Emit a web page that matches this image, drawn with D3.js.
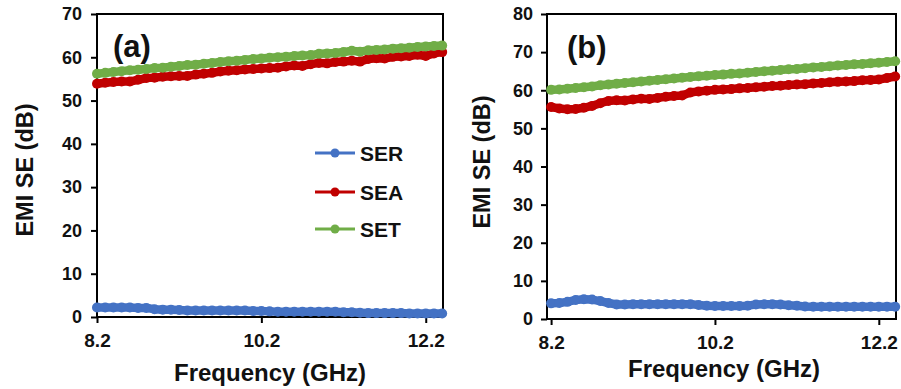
<!DOCTYPE html>
<html lang="en">
<head>
<meta charset="UTF-8">
<title>EMI SE</title>
<script src="https://d3js.org/d3.v7.min.js"></script>
<style>
    body{ margin:0; background:#fff; }
    text{ font-family: "Liberation Sans", Arial, sans-serif; font-weight: bold; fill:#111; }
    .frame{ fill:none; stroke:#000; stroke-width:2; }
</style>
</head>
<body>
<svg id="fig" width="901" height="389"></svg>
<script>
    // frequency points (GHz)
    const freq = [8.2,8.3,8.4,8.5,8.6,8.7,8.8,8.9,9.0,9.1,9.2,9.3,9.4,9.5,9.6,9.7,9.8,9.9,10.0,10.1,10.2,
        10.3,10.4,10.5,10.6,10.7,10.8,10.9,11.0,11.1,11.2,11.3,11.4,11.5,11.6,11.7,11.8,11.9,12.0,12.1,12.2,12.3,12.4];

    // panel (a)
    const serA = [2.2,2.2,2.2,2.2,2.2,2.1,2.1,1.8,1.7,1.7,1.6,1.5,1.5,1.5,1.5,1.5,1.5,1.5,1.5,1.4,1.4,
        1.3,1.2,1.2,1.2,1.2,1.2,1.2,1.2,1.2,1.1,1.1,1.0,0.9,0.9,0.9,0.9,0.9,0.8,0.8,0.8,0.8,0.8];
    const seaA = [53.9,54.1,54.3,54.4,54.4,54.8,55.2,55.3,55.5,55.6,55.7,55.7,56.0,56.2,56.4,56.7,56.9,57.0,57.2,57.3,57.4,
        57.5,57.6,57.9,58.1,58.0,58.4,58.7,58.6,58.9,59.0,59.2,59.0,59.6,59.8,59.7,60.1,60.2,60.3,60.6,60.3,60.9,61.2];
    const setA = [56.2,56.4,56.6,56.8,57.0,57.1,57.3,57.5,57.6,57.8,58.0,58.2,58.3,58.5,58.7,58.9,59.1,59.2,59.4,59.6,59.7,
        59.9,60.0,60.1,60.3,60.4,60.5,60.8,60.9,61.0,61.2,61.5,61.3,61.6,61.7,61.8,62.0,62.1,62.2,62.4,62.5,62.6,62.7];

    // panel (b)
    const serB = [4.1,4.2,4.5,5.0,5.2,5.1,4.7,4.2,3.8,3.8,3.9,3.9,3.9,3.9,3.9,3.9,3.9,3.9,3.7,3.5,3.4,
        3.4,3.4,3.4,3.5,3.8,3.9,3.9,3.8,3.6,3.5,3.3,3.2,3.2,3.2,3.2,3.2,3.2,3.2,3.2,3.2,3.2,3.2];
    const seaB = [55.6,55.2,55.0,55.1,55.4,55.9,56.6,57.2,57.4,57.3,57.6,57.8,57.7,58.0,58.3,58.5,58.6,59.4,59.7,59.9,60.1,
        60.2,60.3,60.5,60.6,60.8,60.9,61.1,61.2,61.4,61.5,61.6,61.8,61.9,62.1,62.2,62.3,62.4,62.6,62.7,62.8,63.2,63.6];
    const setB = [60.1,60.2,60.4,60.6,60.8,61.0,61.3,61.5,61.7,61.9,62.1,62.3,62.5,62.7,62.9,63.1,63.3,63.5,63.7,63.8,64.0,
        64.1,64.3,64.4,64.6,64.8,65.0,65.1,65.3,65.5,65.6,65.8,66.0,66.1,66.3,66.5,66.6,66.8,66.9,67.1,67.2,67.4,67.6];

    const seriesNames = ["SER", "SEA", "SET"];
    const colors = {SER: "#4472C4", SEA: "#C00000", SET: "#70AD47"};
    const xTicks = [8.2, 10.2, 12.2];

    const svg = d3.select("#fig");

    function drawPanel(p) {
        const g = svg.append("g");
        const x = d3.scaleLinear().domain(p.xDomain).range([p.left, p.right]);
        const y = d3.scaleLinear().domain([0, p.yMax]).range([p.bottom, p.top]);

        // y axis
        g.append("g")
            .attr("transform", "translate(" + p.left + ",0)")
            .call(d3.axisLeft(y).ticks(p.yMax / 10).tickSize(6).tickPadding(p.yPad))
            .call(a => a.select(".domain").remove())
            .call(a => a.selectAll("line").attr("stroke", "#000").attr("stroke-width", 2))
            .call(a => a.selectAll("text").attr("font-size", 18).attr("font-family", null).attr("fill", "#111"));

        // x axis
        g.append("g")
            .attr("transform", "translate(0," + p.bottom + ")")
            .call(d3.axisBottom(x).tickValues(xTicks).tickFormat(d3.format(".1f")).tickSize(6).tickPadding(p.xPad))
            .call(a => a.select(".domain").remove())
            .call(a => a.selectAll("line").attr("stroke", "#000").attr("stroke-width", 2))
            .call(a => a.selectAll("text").attr("font-size", 19).attr("font-family", null).attr("fill", "#111"));

        g.append("rect").attr("class", "frame")
            .attr("x", p.left).attr("y", p.top)
            .attr("width", p.right - p.left).attr("height", p.bottom - p.top);

        const line = d3.line().x((d, i) => x(freq[i])).y(d => y(d));
        seriesNames.forEach(name => {
            const vals = p.data[name];
            g.append("path").datum(vals)
                .attr("d", line)
                .attr("fill", "none")
                .attr("stroke", colors[name])
                .attr("stroke-width", 8.5)
                .attr("stroke-linejoin", "round");
            g.append("g").selectAll("circle").data(vals).enter()
                .append("circle")
                .attr("cx", (d, i) => x(freq[i]))
                .attr("cy", d => y(d))
                .attr("r", 5)
                .attr("fill", colors[name]);
        });

        g.append("text")
            .attr("x", p.labelX).attr("y", p.labelY)
            .attr("font-size", 31)
            .text(p.label);

        g.append("text")
            .attr("transform", "translate(" + p.yTitleX + "," + p.yTitleY + ") rotate(-90)")
            .attr("text-anchor", "middle")
            .attr("dy", "0.35em")
            .attr("font-size", 23.5)
            .text("EMI SE (dB)");

        g.append("text")
            .attr("x", p.xTitleX).attr("y", p.xTitleY)
            .attr("text-anchor", "middle")
            .attr("font-size", 24)
            .text("Frequency (GHz)");
    }

    drawPanel({
        left: 97, right: 443, top: 14, bottom: 317,
        xDomain: [8.2, 12.41], yMax: 70, yPad: 9, xPad: 11,
        data: {SER: serA, SEA: seaA, SET: setA},
        label: "(a)", labelX: 113, labelY: 57,
        yTitleX: 25, yTitleY: 170, xTitleX: 270, xTitleY: 381
    });

    drawPanel({
        left: 547, right: 896, top: 14, bottom: 319,
        xDomain: [8.15, 12.41], yMax: 80, yPad: 8, xPad: 11,
        data: {SER: serB, SEA: seaB, SET: setB},
        label: "(b)", labelX: 567, labelY: 58,
        yTitleX: 482, yTitleY: 162, xTitleX: 724, xTitleY: 377
    });

    // legend (inside panel a)
    const legend = svg.append("g");
    const legendY = [153, 192, 229];
    seriesNames.forEach((name, i) => {
        legend.append("line")
            .attr("x1", 315).attr("x2", 355)
            .attr("y1", legendY[i]).attr("y2", legendY[i])
            .attr("stroke", colors[name]).attr("stroke-width", 3);
        legend.append("circle")
            .attr("cx", 335).attr("cy", legendY[i]).attr("r", 4.5)
            .attr("fill", colors[name]);
        legend.append("text")
            .attr("x", 360).attr("y", legendY[i])
            .attr("dy", "0.36em")
            .attr("font-size", 21)
            .text(name);
    });
</script>
</body>
</html>
